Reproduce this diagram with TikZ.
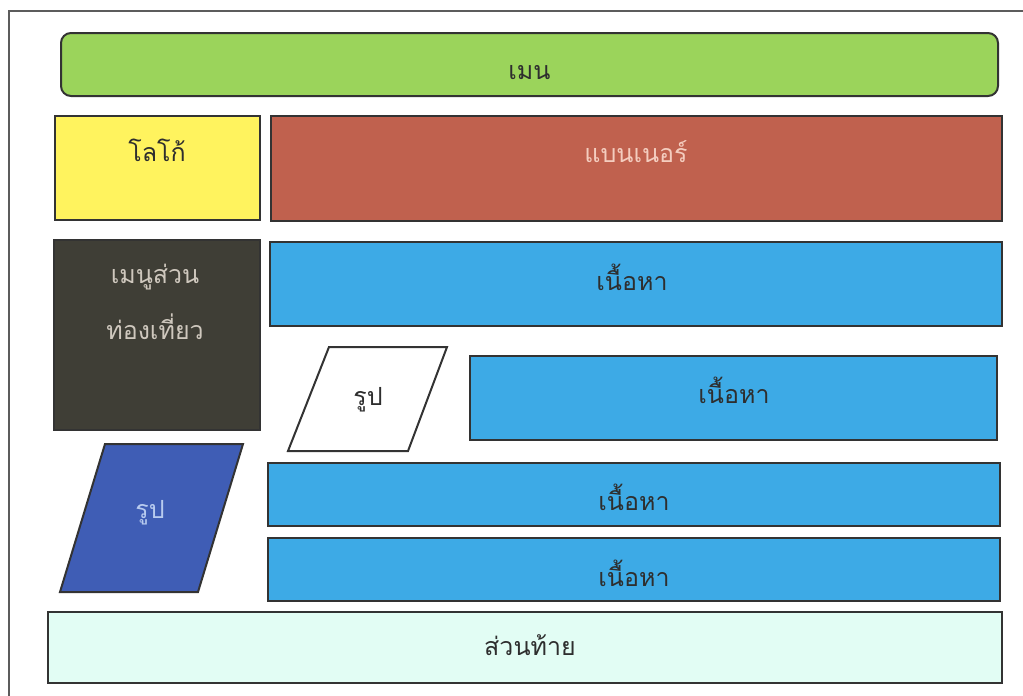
\documentclass[tikz,border=0pt]{standalone}
\usepackage{fontspec}
\newfontfamily\thaifont[Script=Thai]{Loma}
\definecolor{menugreen}{HTML}{9BD45B}
\definecolor{logoyellow}{HTML}{FFF35E}
\definecolor{bannerred}{HTML}{C0614E}
\definecolor{bannertext}{HTML}{F4CDBF}
\definecolor{sidedark}{HTML}{3F3E36}
\definecolor{sidetext}{HTML}{CFC8BE}
\definecolor{contentblue}{HTML}{3DAAE6}
\definecolor{picblue}{HTML}{3F5DB5}
\definecolor{pictext}{HTML}{B8CBEF}
\definecolor{footmint}{HTML}{E2FDF4}
\definecolor{edge}{HTML}{333333}
\definecolor{inktext}{HTML}{2E2E2E}
\tikzset{
  box/.style={draw=edge, line width=2pt},
  lbl/.style={font=\thaifont\fontsize{25}{34}\selectfont, text=inktext, align=center},
}
\begin{document}
\begin{tikzpicture}[x=1pt,y=-1pt]
\useasboundingbox (0,0) rectangle (1023,696);
% outer frame
\draw[draw=edge!80, line width=1.6pt] (9,700) -- (9,11) -- (1030,11);
% menu
\filldraw[box, fill=menugreen, rounded corners=10pt] (61,33) rectangle (998,96);
\node[lbl] (menu) at (529.5,73) {เมน};
% logo
\filldraw[box, fill=logoyellow] (55,116) rectangle (260,220);
\node[lbl] (logo) at (157,150) {โลโก้};
% banner
\filldraw[box, fill=bannerred] (271,116) rectangle (1002,221);
\node[lbl, text=bannertext] (banner) at (636,152) {แบนเนอร์};
% side menu
\filldraw[box, fill=sidedark] (54,240) rectangle (260,430);
\node[lbl, text=sidetext] (side1) at (155,277) {เมนูส่วน};
\node[lbl, text=sidetext] (side2) at (155,327) {ท่องเที่ยว};
% content 1
\filldraw[box, fill=contentblue] (270,242) rectangle (1002,326);
\node[lbl] (c1) at (632,277) {เนื้อหา};
% white picture
\filldraw[box, fill=white] (329,347) -- (447,347) -- (408,451) -- (288,451) -- cycle;
\node[lbl] (pic1) at (368,400) {รูป};
% content 2
\filldraw[box, fill=contentblue] (470,356) rectangle (997,440);
\node[lbl] (c2) at (734,390) {เนื้อหา};
% blue picture
\filldraw[box, fill=picblue] (105,444) -- (243,444) -- (198,592) -- (60,592) -- cycle;
\node[lbl, text=pictext] (pic2) at (150,513) {รูป};
% content 3
\filldraw[box, fill=contentblue] (268,463) rectangle (1000,526);
\node[lbl] (c3) at (634,497) {เนื้อหา};
% content 4
\filldraw[box, fill=contentblue] (268,538) rectangle (1000,601);
\node[lbl] (c4) at (634,573) {เนื้อหา};
% footer
\filldraw[box, fill=footmint] (48,612) rectangle (1002,683);
\node[lbl] (foot) at (530,645) {ส่วนท้าย};
\end{tikzpicture}
\end{document}
